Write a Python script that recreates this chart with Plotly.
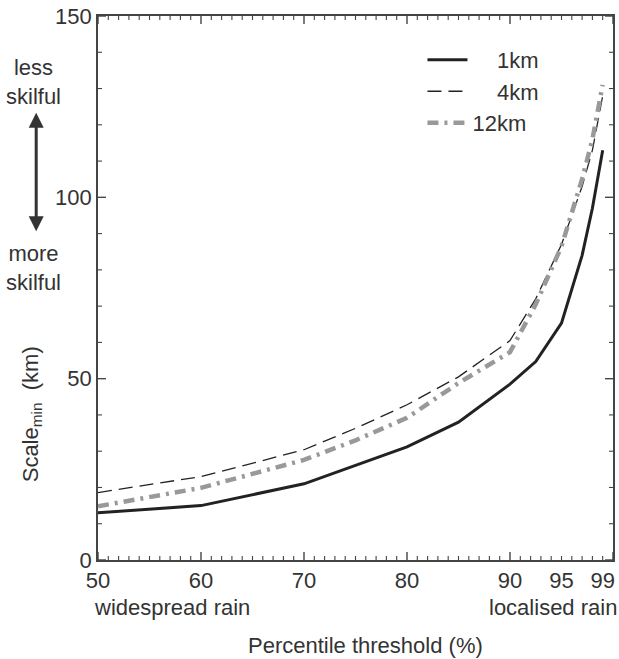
import plotly.graph_objects as go

# Data
percentile = [50, 60, 70, 75, 80, 85, 90, 92.5, 95, 97, 98, 99]
scale_1km = [13.0, 15.0, 21.0, 26.0, 31.2, 38.0, 48.5, 54.7, 65.3, 84.0, 97.0, 113.0]
scale_4km = [18.6, 23.0, 30.4, 36.3, 42.8, 50.5, 60.5, 72.0, 87.0, 103.0, 113.0, 128.0]
scale_12km = [14.8, 19.9, 27.6, 33.0, 39.2, 48.8, 57.3, 70.5, 86.5, 105.0, 116.0, 131.0]

x_label_vals = [50, 60, 70, 80, 90, 95, 99]
x_label_text = ["50", "60", "70", "80", "90", "95", "99"]
y_tick_vals = [0, 50, 100, 150]
x_range = [50, 100]
y_range = [0, 150]
x_major_ticks = list(range(50, 101, 10))
x_minor_ticks = [v for v in range(50, 101, 1) if v not in x_major_ticks]
y_major_ticks = list(range(0, 151, 50))
y_minor_ticks = [v for v in range(0, 151, 10) if v not in y_major_ticks]

FONT = "Liberation Sans, Arial, sans-serif"
TXT = "#333333"
AX = "#444444"
FS = 22
MAJ, MIN = 8, 4

fig = go.Figure()
fig.add_trace(go.Scatter(x=percentile, y=scale_1km, mode="lines", name="\u2007\u20071km",
                         line=dict(color="#222222", width=3)))
fig.add_trace(go.Scatter(x=percentile, y=scale_4km, mode="lines", name="\u2007\u20074km",
                         line=dict(color="#222222", width=1.3, dash="14px,7px")))
fig.add_trace(go.Scatter(x=percentile, y=scale_12km, mode="lines", name="12km",
                         line=dict(color="#999999", width=4.5, dash="11px,6px,3px,6px")))

shapes = []
def xtick(v, L, w):
    for anchor, sign in [(0, 1), (1, -1)]:
        shapes.append(dict(type="line", xref="x", yref="paper", ysizemode="pixel",
                           yanchor=anchor, x0=v, x1=v, y0=0, y1=sign * L,
                           line=dict(color=AX, width=w), layer="above"))
def ytick(v, L, w):
    for anchor, sign in [(0, 1), (1, -1)]:
        shapes.append(dict(type="line", xref="paper", yref="y", xsizemode="pixel",
                           xanchor=anchor, x0=0, x1=sign * L, y0=v, y1=v,
                           line=dict(color=AX, width=w), layer="above"))
for v in x_major_ticks:
    xtick(v, MAJ, 1.4)
for v in x_minor_ticks:
    xtick(v, MIN, 1.1)
for v in y_major_ticks:
    ytick(v, MAJ, 1.4)
for v in y_minor_ticks:
    ytick(v, MIN, 1.1)

fig.update_layout(
    width=619, height=659,
    margin=dict(l=98, r=4, t=15, b=99),
    paper_bgcolor="white", plot_bgcolor="white",
    font=dict(family=FONT, size=FS, color=TXT),
    showlegend=True,
    legend=dict(x=0.63, y=0.958, xanchor="left", yanchor="top",
                bgcolor="rgba(0,0,0,0)", font=dict(size=FS, color=TXT),
                itemwidth=40, tracegroupgap=0),
    xaxis=dict(range=x_range, tickvals=x_label_vals, ticktext=x_label_text, ticks="",
               showline=True, linecolor=AX, linewidth=1.6, mirror=True,
               showgrid=False, zeroline=False, tickfont=dict(size=FS, color=TXT)),
    yaxis=dict(range=y_range, tickvals=y_tick_vals, ticks="",
               showline=True, linecolor=AX, linewidth=1.6, mirror=True,
               showgrid=False, zeroline=False, tickfont=dict(size=FS, color=TXT)),
    shapes=shapes,
)

ann = []
ann.append(dict(text="less<br>skilful", x=-0.125, y=0.825, xref="paper", yref="paper",
                showarrow=False, font=dict(size=FS, color=TXT), xanchor="center", yanchor="bottom"))
ann.append(dict(text="more<br>skilful", x=-0.125, y=0.59, xref="paper", yref="paper",
                showarrow=False, font=dict(size=FS, color=TXT), xanchor="center", yanchor="top"))
ann.append(dict(text="", x=-0.12, y=0.822, xref="paper", yref="paper",
                ax=0, ay=120, axref="pixel", ayref="pixel", showarrow=True,
                arrowhead=2, startarrowhead=2, arrowside="end+start",
                arrowsize=1.0, arrowwidth=3, arrowcolor="#333333"))
ann.append(dict(text="Scale<sub>min</sub>  (km)", textangle=-90, x=-0.128, y=0.268,
                xref="paper", yref="paper", showarrow=False, font=dict(size=FS, color=TXT),
                xanchor="center", yanchor="middle"))
ann.append(dict(text="widespread rain", x=-0.012, y=-0.088, xref="paper", yref="paper",
                showarrow=False, font=dict(size=FS, color=TXT), xanchor="left", yanchor="middle"))
ann.append(dict(text="localised rain", x=1.012, y=-0.088, xref="paper", yref="paper",
                showarrow=False, font=dict(size=FS, color=TXT), xanchor="right", yanchor="middle"))
ann.append(dict(text="Percentile threshold (%)", x=0.52, y=-0.157, xref="paper", yref="paper",
                showarrow=False, font=dict(size=FS, color=TXT), xanchor="center", yanchor="middle"))
fig.update_layout(annotations=ann)

fig.write_html("out.html")
